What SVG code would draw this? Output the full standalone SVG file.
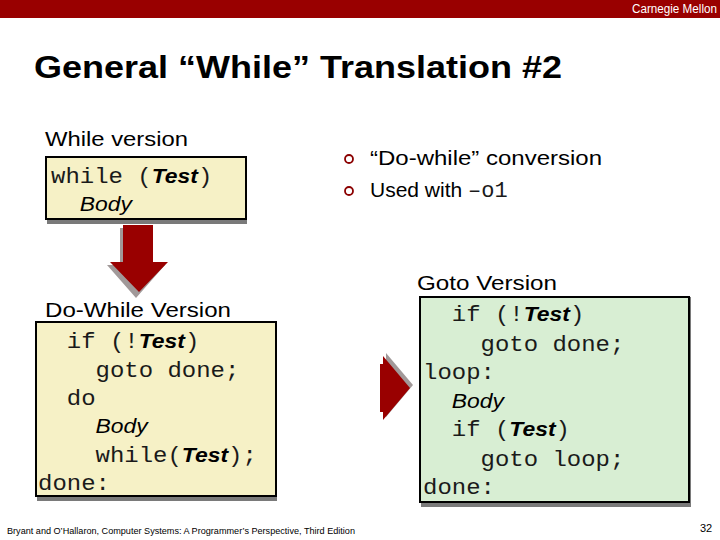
<svg xmlns="http://www.w3.org/2000/svg" width="720" height="540" viewBox="0 0 720 540">
<style>
.sans{font-family:"Liberation Sans",Arial,sans-serif;fill:#000}
.mono{font-family:"Liberation Mono","Courier New",monospace;font-size:22px;fill:#1a1a1a}
.it{font-family:"Liberation Sans",Arial,sans-serif;font-style:italic;font-size:21px;fill:#000}
.itb{font-family:"Liberation Sans",Arial,sans-serif;font-style:italic;font-weight:bold;font-size:21px;fill:#000}
.lbl{font-size:21px}
.yel{fill:#F6F1C6;stroke:#000;stroke-width:2}
.grn{fill:#D8EED3;stroke:#000;stroke-width:2}
.shd{fill:#7a7a7a}
.arr{fill:#990000}
.ashd{fill:#8a8080;opacity:0.8}
.bul{fill:none;stroke:#8B0000;stroke-width:1.8}
</style>
<rect width="720" height="540" fill="#fff"/>
<g id="header">
<rect x="0" y="0" width="720" height="18" fill="#990000"/>
<text x="632" y="13" font-family="'Liberation Sans Narrow','Liberation Sans',sans-serif" font-size="12" fill="#fff" textLength="85" lengthAdjust="spacingAndGlyphs">Carnegie Mellon</text>
</g>
<text id="title" class="sans" x="34" y="78" font-size="32" font-weight="bold" textLength="528" lengthAdjust="spacingAndGlyphs">General “While” Translation #2</text>

<g id="bullets">
<circle class="bul" cx="349" cy="159" r="4"/>
<circle class="bul" cx="349" cy="191" r="4"/>
<text class="sans lbl" x="370" y="165" textLength="232" lengthAdjust="spacingAndGlyphs">“Do-while” conversion</text>
<text class="sans lbl" x="370" y="197">Used with <tspan class="mono">–o1</tspan></text>
</g>

<g id="while-node">
<text class="sans lbl" x="45" y="146" textLength="143" lengthAdjust="spacingAndGlyphs">While version</text>
<rect class="shd" x="47" y="157" width="200" height="67"/>
<rect class="yel" x="46" y="157" width="200" height="62"/>
<g transform="translate(51 0) scale(1.09 1)">
<text class="mono" x="0" y="183">while (<tspan class="itb">Test</tspan>)</text>
<text class="it" x="26.4" y="211">Body</text>
</g>
</g>

<g id="dowhile-node">
<text class="sans lbl" x="45" y="317" textLength="186" lengthAdjust="spacingAndGlyphs">Do-While Version</text>
<rect class="shd" x="37" y="322" width="240" height="179"/>
<rect class="yel" x="36" y="322" width="240" height="174"/>
<g transform="translate(38 0) scale(1.09 1)">
<text class="mono" x="26.4" y="348">if (!<tspan class="itb">Test</tspan>)</text>
<text class="mono" x="52.8" y="377">goto done;</text>
<text class="mono" x="26.4" y="405">do</text>
<text class="it" x="52.8" y="433">Body</text>
<text class="mono" x="52.8" y="462">while(<tspan class="itb">Test</tspan>);</text>
<text class="mono" x="0" y="490">done:</text>
</g>
</g>

<g id="goto-node">
<text class="sans lbl" x="417" y="290" textLength="140" lengthAdjust="spacingAndGlyphs">Goto Version</text>
<rect class="shd" x="421" y="297" width="270" height="210"/>
<rect class="grn" x="420" y="297" width="269" height="205"/>
<g transform="translate(423 0) scale(1.09 1)">
<text class="mono" x="26.4" y="321">if (!<tspan class="itb">Test</tspan>)</text>
<text class="mono" x="52.8" y="351">goto done;</text>
<text class="mono" x="0" y="379">loop:</text>
<text class="it" x="26.4" y="408">Body</text>
<text class="mono" x="26.4" y="436">if (<tspan class="itb">Test</tspan>)</text>
<text class="mono" x="52.8" y="466">goto loop;</text>
<text class="mono" x="0" y="494">done:</text>
</g>
</g>

<g id="connectors">
<polygon class="ashd" transform="translate(-3 3)" points="123,225 153,225 153,262 168,262 139,295 110,262 123,262"/>
<polygon class="arr" points="123,225 153,225 153,262 168,262 139,292 110,262 123,262"/>
<polygon class="ashd" transform="translate(3 -3)" points="380,364 383,364 383,356 410,388 383,420 383,412 380,412"/>
<polygon class="arr" points="380,364 383,364 383,356 410,388 383,420 383,412 380,412"/>
</g>

<g id="footer">
<text class="sans" x="7" y="534" font-size="9" textLength="348" lengthAdjust="spacingAndGlyphs">Bryant and O’Hallaron, Computer Systems: A Programmer’s Perspective, Third Edition</text>
<text class="sans" x="700" y="532" font-size="11">32</text>
</g>
</svg>
